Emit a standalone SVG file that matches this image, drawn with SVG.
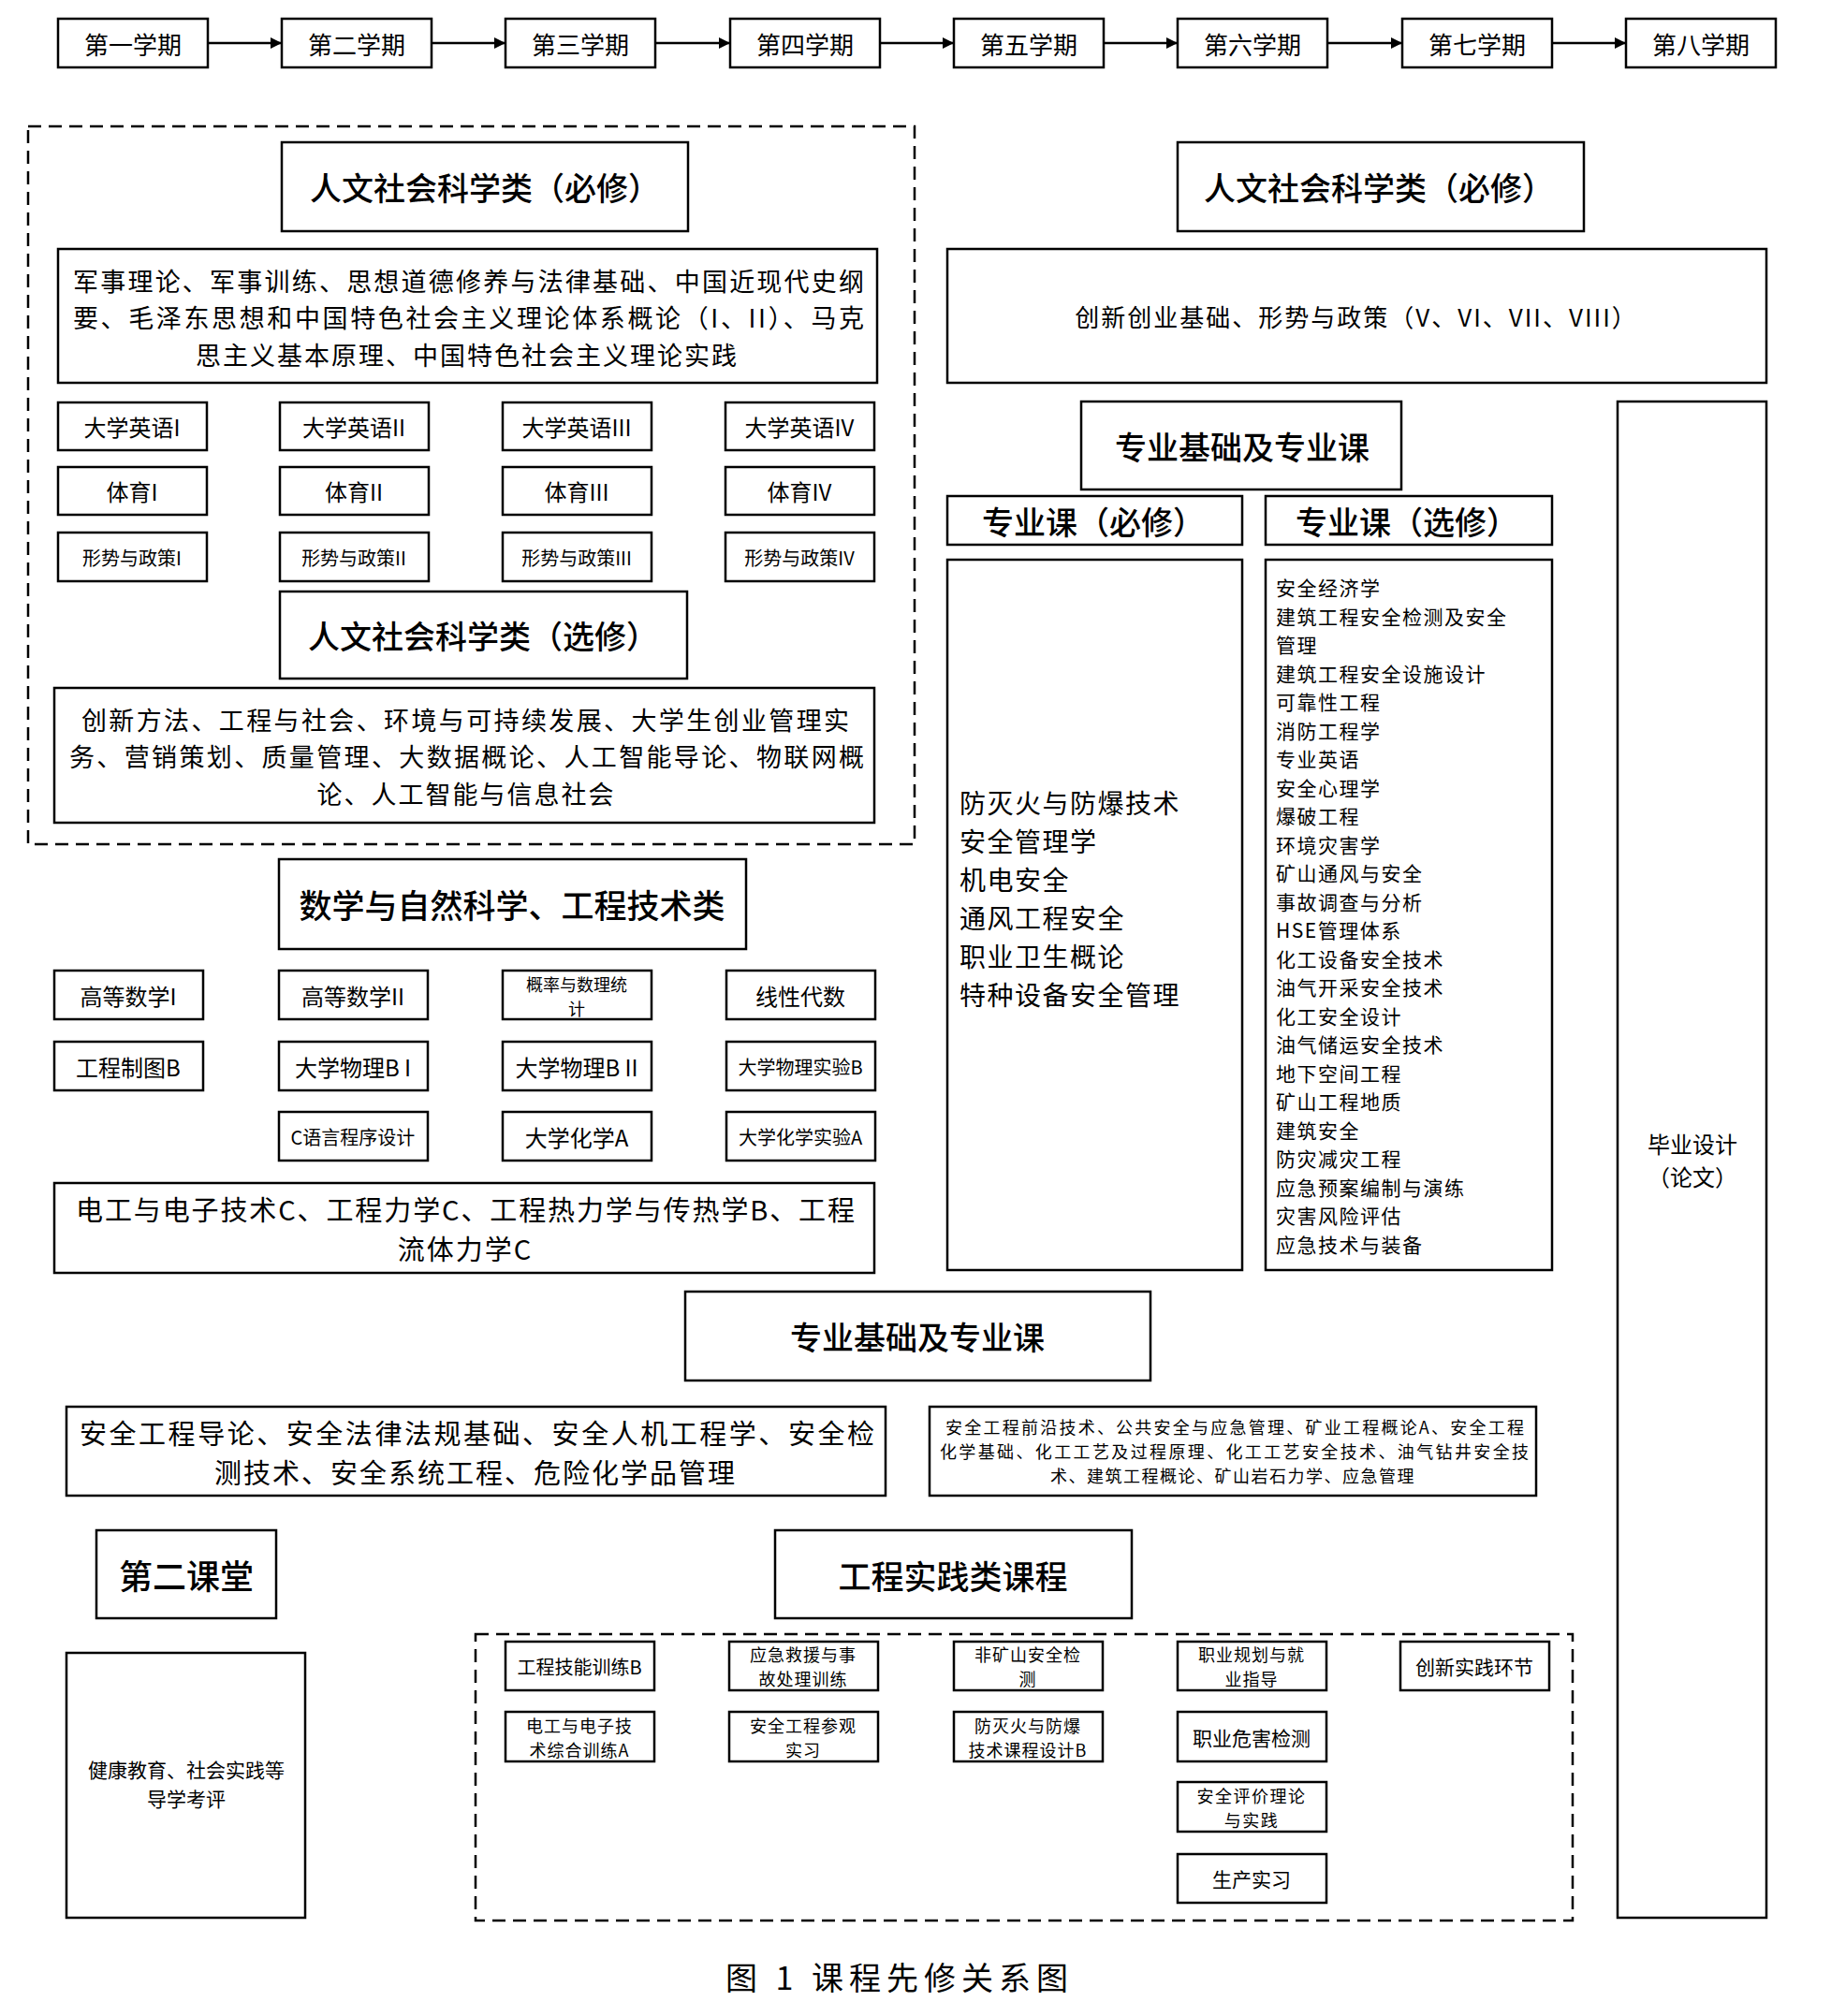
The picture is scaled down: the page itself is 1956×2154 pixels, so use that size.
<svg xmlns="http://www.w3.org/2000/svg" width="1956" height="2154" viewBox="0 0 1956 2154">
<style>
rect{fill:#fff;stroke:#000;stroke-width:2.5}
.d{fill:none;stroke:#000;stroke-width:2.5;stroke-dasharray:14 8}
text{font-family:"Noto Sans CJK SC","Liberation Sans",sans-serif;fill:#000}
.c{text-anchor:middle;dominant-baseline:central}
.l{dominant-baseline:central}
.h{font-size:34px;font-weight:500}
.s{font-size:26px}
.m{font-size:24px}
.p{font-size:20px}
.q{font-size:18px}
.e{stroke:#000;stroke-width:2.5;fill:none}
</style>
<defs>
<marker id="ar" viewBox="0 0 10 10" refX="10" refY="5" markerWidth="5" markerHeight="5" orient="auto" markerUnits="strokeWidth"><path d="M0,0 L10,5 L0,10 z" fill="#000"/></marker>
</defs>
<rect x="0" y="0" width="1956" height="2154" style="fill:#fff;stroke:none"/>

<g id="connectors">
<line class="e" x1="222" y1="46" x2="301" y2="46" marker-end="url(#ar)"/>
<line class="e" x1="461" y1="46" x2="540" y2="46" marker-end="url(#ar)"/>
<line class="e" x1="700" y1="46" x2="780" y2="46" marker-end="url(#ar)"/>
<line class="e" x1="940" y1="46" x2="1019" y2="46" marker-end="url(#ar)"/>
<line class="e" x1="1179" y1="46" x2="1258" y2="46" marker-end="url(#ar)"/>
<line class="e" x1="1418" y1="46" x2="1498" y2="46" marker-end="url(#ar)"/>
<line class="e" x1="1658" y1="46" x2="1737" y2="46" marker-end="url(#ar)"/>
</g>

<g id="sem1"><rect x="62" y="20" width="160" height="52"/><text class="c s" x="142" y="46">第一学期</text></g>
<g id="sem2"><rect x="301" y="20" width="160" height="52"/><text class="c s" x="381" y="46">第二学期</text></g>
<g id="sem3"><rect x="540" y="20" width="160" height="52"/><text class="c s" x="620" y="46">第三学期</text></g>
<g id="sem4"><rect x="780" y="20" width="160" height="52"/><text class="c s" x="860" y="46">第四学期</text></g>
<g id="sem5"><rect x="1019" y="20" width="160" height="52"/><text class="c s" x="1099" y="46">第五学期</text></g>
<g id="sem6"><rect x="1258" y="20" width="160" height="52"/><text class="c s" x="1338" y="46">第六学期</text></g>
<g id="sem7"><rect x="1498" y="20" width="160" height="52"/><text class="c s" x="1578" y="46">第七学期</text></g>
<g id="sem8"><rect x="1737" y="20" width="160" height="52"/><text class="c s" x="1817" y="46">第八学期</text></g>

<g id="humanities-group"><rect class="d" x="30" y="135" width="947" height="767"/></g>

<g id="hum-req-title"><rect x="301" y="152" width="434" height="95"/><text class="c h" x="518" y="199">人文社会科学类（必修）</text></g>
<g id="hum-req-list"><rect x="62" y="266" width="875" height="143"/>
<text class="l" font-size="27"><tspan x="78" y="298.5" textLength="845" lengthAdjust="spacing">军事理论、军事训练、思想道德修养与法律基础、中国近现代史纲</tspan><tspan x="78" y="338" textLength="845" lengthAdjust="spacing">要、毛泽东思想和中国特色社会主义理论体系概论（I、II）、马克</tspan><tspan x="499" y="377.5" text-anchor="middle" letter-spacing="2">思主义基本原理、中国特色社会主义理论实践</tspan></text>
</g>

<g id="eng1"><rect x="62" y="430" width="159" height="51"/><text class="c m" x="141" y="455">大学英语I</text></g>
<g id="eng2"><rect x="299" y="430" width="159" height="51"/><text class="c m" x="378" y="455">大学英语II</text></g>
<g id="eng3"><rect x="537" y="430" width="159" height="51"/><text class="c m" x="616" y="455">大学英语III</text></g>
<g id="eng4"><rect x="775" y="430" width="159" height="51"/><text class="c m" x="854" y="455">大学英语IV</text></g>

<g id="pe1"><rect x="62" y="499" width="159" height="51"/><text class="c m" x="141" y="524">体育I</text></g>
<g id="pe2"><rect x="299" y="499" width="159" height="51"/><text class="c m" x="378" y="524">体育II</text></g>
<g id="pe3"><rect x="537" y="499" width="159" height="51"/><text class="c m" x="616" y="524">体育III</text></g>
<g id="pe4"><rect x="775" y="499" width="159" height="51"/><text class="c m" x="854" y="524">体育IV</text></g>

<g id="pol1"><rect x="62" y="569" width="159" height="52"/><text class="c p" x="141" y="595">形势与政策I</text></g>
<g id="pol2"><rect x="299" y="569" width="159" height="52"/><text class="c p" x="378" y="595">形势与政策II</text></g>
<g id="pol3"><rect x="537" y="569" width="159" height="52"/><text class="c p" x="616" y="595">形势与政策III</text></g>
<g id="pol4"><rect x="775" y="569" width="159" height="52"/><text class="c p" x="854" y="595">形势与政策IV</text></g>

<g id="hum-elec-title"><rect x="299" y="632" width="435" height="93"/><text class="c h" x="516" y="678">人文社会科学类（选修）</text></g>
<g id="hum-elec-list"><rect x="58" y="735" width="876" height="144"/>
<text class="l" font-size="27"><tspan x="87" y="767.5" textLength="820" lengthAdjust="spacing">创新方法、工程与社会、环境与可持续发展、大学生创业管理实</tspan><tspan x="74" y="807" textLength="849" lengthAdjust="spacing">务、营销策划、质量管理、大数据概论、人工智能导论、物联网概</tspan><tspan x="498" y="846.5" text-anchor="middle" letter-spacing="2">论、人工智能与信息社会</tspan></text>
</g>

<g id="math-title"><rect x="298" y="918" width="499" height="96"/><text class="c" x="547" y="965" font-size="35" font-weight="500">数学与自然科学、工程技术类</text></g>

<g id="m11"><rect x="58" y="1037" width="159" height="52"/><text class="c m" x="137" y="1063">高等数学I</text></g>
<g id="m12"><rect x="298" y="1037" width="159" height="52"/><text class="c m" x="377" y="1063">高等数学II</text></g>
<g id="m13"><rect x="537" y="1037" width="159" height="52"/><text class="c q"><tspan x="616" y="1051">概率与数理统</tspan><tspan x="616" y="1077">计</tspan></text></g>
<g id="m14"><rect x="776" y="1037" width="159" height="52"/><text class="c m" x="855" y="1063">线性代数</text></g>
<g id="m21"><rect x="58" y="1113" width="159" height="52"/><text class="c m" x="137" y="1139">工程制图B</text></g>
<g id="m22"><rect x="298" y="1113" width="159" height="52"/><text class="c m" x="377" y="1139">大学物理B I</text></g>
<g id="m23"><rect x="537" y="1113" width="159" height="52"/><text class="c m" x="616" y="1139">大学物理B II</text></g>
<g id="m24"><rect x="776" y="1113" width="159" height="52"/><text class="c p" x="855" y="1139">大学物理实验B</text></g>
<g id="m32"><rect x="298" y="1188" width="159" height="52"/><text class="c p" x="377" y="1214">C语言程序设计</text></g>
<g id="m33"><rect x="537" y="1188" width="159" height="52"/><text class="c m" x="616" y="1214">大学化学A</text></g>
<g id="m34"><rect x="776" y="1188" width="159" height="52"/><text class="c p" x="855" y="1214">大学化学实验A</text></g>

<g id="eng-tech-list"><rect x="58" y="1264" width="876" height="96"/>
<text class="l" font-size="29"><tspan x="81" y="1291" textLength="832" lengthAdjust="spacing">电工与电子技术C、工程力学C、工程热力学与传热学B、工程</tspan><tspan x="497" y="1333" text-anchor="middle" letter-spacing="2">流体力学C</tspan></text>
</g>

<g id="hum-req-title-r"><rect x="1258" y="152" width="434" height="95"/><text class="c h" x="1473" y="199">人文社会科学类（必修）</text></g>
<g id="innov-list"><rect x="1012" y="266" width="875" height="143"/><text class="c" x="1449" y="337" font-size="26" letter-spacing="2">创新创业基础、形势与政策（V、VI、VII、VIII）</text></g>

<g id="major-title-r"><rect x="1155" y="429" width="342" height="94"/><text class="c h" x="1327" y="476">专业基础及专业课</text></g>
<g id="major-req-title"><rect x="1012" y="530" width="315" height="52"/><text class="c h" x="1168" y="556">专业课（必修）</text></g>
<g id="major-elec-title"><rect x="1352" y="530" width="306" height="52"/><text class="c h" x="1503" y="556">专业课（选修）</text></g>

<g id="major-req-list"><rect x="1012" y="598" width="315" height="759"/>
<text class="l" font-size="28" letter-spacing="1.5"><tspan x="1025" y="856.5">防灭火与防爆技术</tspan><tspan x="1025" y="897.5">安全管理学</tspan><tspan x="1025" y="938.5">机电安全</tspan><tspan x="1025" y="979.5">通风工程安全</tspan><tspan x="1025" y="1020.5">职业卫生概论</tspan><tspan x="1025" y="1061.5">特种设备安全管理</tspan></text>
</g>

<g id="major-elec-list"><rect x="1352" y="598" width="306" height="759"/>
<text class="l" font-size="21" letter-spacing="1.5"><tspan x="1363" y="627">安全经济学</tspan><tspan x="1363" y="657.5">建筑工程安全检测及安全</tspan><tspan x="1363" y="688">管理</tspan><tspan x="1363" y="718.5">建筑工程安全设施设计</tspan><tspan x="1363" y="749">可靠性工程</tspan><tspan x="1363" y="779.5">消防工程学</tspan><tspan x="1363" y="810">专业英语</tspan><tspan x="1363" y="840.5">安全心理学</tspan><tspan x="1363" y="871">爆破工程</tspan><tspan x="1363" y="901.5">环境灾害学</tspan><tspan x="1363" y="932">矿山通风与安全</tspan><tspan x="1363" y="962.5">事故调查与分析</tspan><tspan x="1363" y="993">HSE管理体系</tspan><tspan x="1363" y="1023.5">化工设备安全技术</tspan><tspan x="1363" y="1054">油气开采安全技术</tspan><tspan x="1363" y="1084.5">化工安全设计</tspan><tspan x="1363" y="1115">油气储运安全技术</tspan><tspan x="1363" y="1145.5">地下空间工程</tspan><tspan x="1363" y="1176">矿山工程地质</tspan><tspan x="1363" y="1206.5">建筑安全</tspan><tspan x="1363" y="1237">防灾减灾工程</tspan><tspan x="1363" y="1267.5">应急预案编制与演练</tspan><tspan x="1363" y="1298">灾害风险评估</tspan><tspan x="1363" y="1328.5">应急技术与装备</tspan></text>
</g>

<g id="thesis"><rect x="1728" y="429" width="159" height="1620"/><text class="c m"><tspan x="1808" y="1221">毕业设计</tspan><tspan x="1808" y="1256">（论文）</tspan></text></g>

<g id="major-title-b"><rect x="732" y="1380" width="497" height="95"/><text class="c h" x="980" y="1427">专业基础及专业课</text></g>
<g id="major-base-list"><rect x="71" y="1503" width="875" height="95"/>
<text class="l" font-size="29"><tspan x="85" y="1529.5" textLength="849" lengthAdjust="spacing">安全工程导论、安全法律法规基础、安全人机工程学、安全检</tspan><tspan x="508" y="1571.5" text-anchor="middle" letter-spacing="2">测技术、安全系统工程、危险化学品管理</tspan></text>
</g>
<g id="major-opt-list"><rect x="993" y="1503" width="648" height="95"/>
<text class="l q"><tspan x="1010" y="1524" textLength="618" lengthAdjust="spacing">安全工程前沿技术、公共安全与应急管理、矿业工程概论A、安全工程</tspan><tspan x="1004" y="1550" textLength="629" lengthAdjust="spacing">化学基础、化工工艺及过程原理、化工工艺安全技术、油气钻井安全技</tspan><tspan x="1317" y="1576" text-anchor="middle" letter-spacing="1.5">术、建筑工程概论、矿山岩石力学、应急管理</tspan></text>
</g>

<g id="second-class-title"><rect x="103" y="1635" width="192" height="94"/><text class="c" x="199" y="1682" font-size="36" font-weight="500">第二课堂</text></g>
<g id="second-class-list"><rect x="71" y="1766" width="255" height="283"/><text class="c" font-size="21"><tspan x="199" y="1890">健康教育、社会实践等</tspan><tspan x="199" y="1921">导学考评</tspan></text></g>

<g id="practice-title"><rect x="828" y="1635" width="381" height="94"/><text class="c" x="1018" y="1682" font-size="35" font-weight="500">工程实践类课程</text></g>
<g id="practice-group"><rect class="d" x="508" y="1746" width="1172" height="306"/></g>

<g id="pr11"><rect x="540" y="1754" width="159" height="52"/><text class="c p" x="619" y="1780">工程技能训练B</text></g>
<g id="pr12"><rect x="779" y="1754" width="159" height="52"/><text class="c q" letter-spacing="1"><tspan x="858" y="1767">应急救援与事</tspan><tspan x="858" y="1793">故处理训练</tspan></text></g>
<g id="pr13"><rect x="1019" y="1754" width="159" height="52"/><text class="c q" letter-spacing="1"><tspan x="1098" y="1767">非矿山安全检</tspan><tspan x="1098" y="1793">测</tspan></text></g>
<g id="pr14"><rect x="1258" y="1754" width="159" height="52"/><text class="c q" letter-spacing="1"><tspan x="1337" y="1767">职业规划与就</tspan><tspan x="1337" y="1793">业指导</tspan></text></g>
<g id="pr15"><rect x="1496" y="1754" width="159" height="52"/><text class="c" x="1575" y="1780" font-size="21">创新实践环节</text></g>
<g id="pr21"><rect x="540" y="1829" width="159" height="53"/><text class="c q" letter-spacing="1"><tspan x="619" y="1842.5">电工与电子技</tspan><tspan x="619" y="1868.5">术综合训练A</tspan></text></g>
<g id="pr22"><rect x="779" y="1829" width="159" height="53"/><text class="c q" letter-spacing="1"><tspan x="858" y="1842.5">安全工程参观</tspan><tspan x="858" y="1868.5">实习</tspan></text></g>
<g id="pr23"><rect x="1019" y="1829" width="159" height="53"/><text class="c q" letter-spacing="1"><tspan x="1098" y="1842.5">防灭火与防爆</tspan><tspan x="1098" y="1868.5">技术课程设计B</tspan></text></g>
<g id="pr24"><rect x="1258" y="1829" width="159" height="53"/><text class="c" x="1337" y="1856" font-size="21">职业危害检测</text></g>
<g id="pr34"><rect x="1258" y="1904" width="159" height="53"/><text class="c q" letter-spacing="1.5"><tspan x="1337" y="1917.5">安全评价理论</tspan><tspan x="1337" y="1943.5">与实践</tspan></text></g>
<g id="pr44"><rect x="1258" y="1981" width="159" height="52"/><text class="c" x="1337" y="2007" font-size="21">生产实习</text></g>

<text class="c" x="961" y="2111" font-size="34" letter-spacing="6">图 1 课程先修关系图</text>
</svg>
